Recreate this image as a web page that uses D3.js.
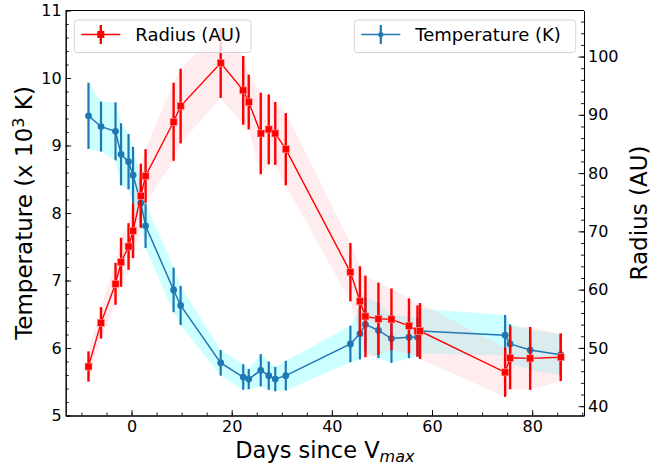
<!DOCTYPE html>
<html>
<head>
<meta charset="utf-8">
<title>Temperature and Radius vs Days</title>
<style>
body { margin: 0; padding: 0; background: #fff; }
svg { display: block; font-family: "DejaVu Sans", sans-serif; }
</style>
<script src="https://d3js.org/d3.v7.min.js"></script>
</head>
<body>
<svg id="chart" width="672" height="466"></svg>
<script>
// data
const days = [-8.6, -6.1, -3.2, -2.1, -0.6, 0.3, 1.85, 2.8, 8.4, 9.8, 17.8, 22.3, 23.4, 25.8, 27.4, 28.7, 30.8,
  43.7, 45.6, 46.7, 49.3, 51.9, 55.4, 57.1, 57.6, 74.6, 75.6, 79.6, 85.7];
const temp = [9.44, 9.28, 9.21, 8.87, 8.76, 8.56, 8.15, 7.81, 6.86, 6.63, 5.78, 5.57, 5.54, 5.67, 5.59, 5.54, 5.59,
  6.06, 6.21, 6.35, 6.26, 6.14, 6.16, 6.16, 6.25, 6.19, 6.06, 5.97, 5.90];
const tempErr = [0.49, 0.37, 0.43, 0.46, 0.41, 0.42, 0.35, 0.33, 0.33, 0.29, 0.19, 0.19, 0.15, 0.24, 0.21, 0.18, 0.22,
  0.27, 0.38, 0.4, 0.41, 0.36, 0.31, 0.29, 0.33, 0.3, 0.29, 0.3, 0.3];
const radius = [46.8, 54.3, 61.0, 64.7, 67.4, 70.1, 76.1, 79.5, 88.8, 91.5, 98.9, 94.2, 92.2, 86.8, 87.5, 86.8, 84.1,
  63.0, 58.0, 55.4, 55.0, 54.9, 53.8, 52.9, 52.9, 45.8, 48.3, 48.2, 48.4];
const radiusErr = [2.6, 2.7, 3.6, 4.2, 4.0, 4.7, 5.5, 4.6, 6.7, 6.4, 6.0, 5.9, 4.7, 7.0, 6.0, 5.4, 6.2,
  5.0, 6.0, 7.0, 6.2, 5.3, 4.7, 4.4, 4.8, 4.2, 5.4, 5.4, 4.1];

const xTicks = [0, 20, 40, 60, 80];
const tempTicks = [5, 6, 7, 8, 9, 10, 11];
const radiusTicks = [40, 50, 60, 70, 80, 90, 100];

const L = 65.7, R = 584, T = 10.5, B = 415.5;
const blue = "#1f77b4", red = "#ff0000";

const svg = d3.select("#chart");

const x = d3.scaleLinear().domain([-13.15, 90.35]).range([L, R]);
const yT = d3.scaleLinear().domain([5, 11]).range([B, T]);
const yR = d3.scaleLinear().domain([38.4, 107.9]).range([B, T]);

const tData = days.map((d, i) => ({ d: d, v: temp[i], e: tempErr[i] }));
const rData = days.map((d, i) => ({ d: d, v: radius[i], e: radiusErr[i] }));

// shaded bands
svg.append("path")
  .datum(tData)
  .attr("fill", "cyan").attr("fill-opacity", 0.2)
  .attr("d", d3.area().x(p => x(p.d)).y0(p => yT(p.v - p.e)).y1(p => yT(p.v + p.e)));

svg.append("path")
  .datum(rData)
  .attr("fill", "pink").attr("fill-opacity", 0.3)
  .attr("d", d3.area().x(p => x(p.d)).y0(p => yR(p.v - p.e)).y1(p => yR(p.v + p.e)));

// temperature series
svg.append("path")
  .datum(tData)
  .attr("fill", "none").attr("stroke", blue).attr("stroke-width", 1.5)
  .attr("d", d3.line().x(p => x(p.d)).y(p => yT(p.v)));

svg.append("g").selectAll("line")
  .data(tData).join("line")
  .attr("x1", p => x(p.d)).attr("x2", p => x(p.d))
  .attr("y1", p => yT(p.v - p.e)).attr("y2", p => yT(p.v + p.e))
  .attr("stroke", blue).attr("stroke-width", 2.2);

svg.append("g").selectAll("circle")
  .data(tData).join("circle")
  .attr("cx", p => x(p.d)).attr("cy", p => yT(p.v)).attr("r", 3.4)
  .attr("fill", blue);

// radius series
svg.append("path")
  .datum(rData)
  .attr("fill", "none").attr("stroke", red).attr("stroke-width", 1.4)
  .attr("d", d3.line().x(p => x(p.d)).y(p => yR(p.v)));

svg.append("g").selectAll("line")
  .data(rData).join("line")
  .attr("x1", p => x(p.d)).attr("x2", p => x(p.d))
  .attr("y1", p => yR(p.v - p.e)).attr("y2", p => yR(p.v + p.e))
  .attr("stroke", red).attr("stroke-width", 2.4);

svg.append("g").selectAll("rect")
  .data(rData).join("rect")
  .attr("x", p => x(p.d) - 3.5).attr("y", p => yR(p.v) - 3.5)
  .attr("width", 7).attr("height", 7)
  .attr("fill", red).attr("stroke", "#ff9999").attr("stroke-width", 0.6);

// axes
function styleAxis(g) {
  g.selectAll("path.domain").attr("stroke", "#000").attr("stroke-width", 1);
  g.selectAll(".tick line").attr("stroke", "#000").attr("stroke-width", 0.9);
  g.selectAll("text").attr("fill", "#000").style("font-size", "16px").style("font-family", "DejaVu Sans");
}

// minor ticks
svg.append("g").attr("transform", `translate(0,${B})`)
  .call(d3.axisBottom(x).tickValues(d3.range(-10, 91, 5)).tickSize(-3).tickSizeOuter(0).tickFormat(""))
  .call(styleAxis);
svg.append("g").attr("transform", `translate(${L},0)`)
  .call(d3.axisLeft(yT).tickValues(d3.range(50, 111, 2).map(v => v / 10)).tickSize(-3).tickSizeOuter(0).tickFormat(""))
  .call(styleAxis);
svg.append("g").attr("transform", `translate(${R},0)`)
  .call(d3.axisRight(yR).tickValues(d3.range(40, 108, 2)).tickSize(-3).tickSizeOuter(0).tickFormat(""))
  .call(styleAxis);

// major ticks
svg.append("g").attr("transform", `translate(0,${B})`)
  .call(d3.axisBottom(x).tickValues(xTicks).tickSize(-5.5).tickSizeOuter(0).tickPadding(5.5).tickFormat(d3.format("d")))
  .call(styleAxis);
svg.append("g").attr("transform", `translate(${L},0)`)
  .call(d3.axisLeft(yT).tickValues(tempTicks).tickSize(-5.5).tickSizeOuter(0).tickPadding(4).tickFormat(d3.format("d")))
  .call(styleAxis);
svg.append("g").attr("transform", `translate(${R},0)`)
  .call(d3.axisRight(yR).tickValues(radiusTicks).tickSize(-5.5).tickSizeOuter(0).tickPadding(4).tickFormat(d3.format("d")))
  .call(styleAxis);

// top spine
svg.append("line")
  .attr("x1", L).attr("x2", R).attr("y1", T).attr("y2", T)
  .attr("stroke", "#000").attr("stroke-width", 1);

// axis labels
const xl = svg.append("text")
  .attr("x", (L + R) / 2).attr("y", 458)
  .attr("text-anchor", "middle").style("font-size", "22.5px").attr("fill", "#000");
xl.append("tspan").text("Days since V");
xl.append("tspan").attr("dy", 4).style("font-size", "16px").style("font-style", "italic").text("max");

const yl = svg.append("text")
  .attr("transform", `translate(32,${(T + B) / 2}) rotate(-90)`)
  .attr("text-anchor", "middle").style("font-size", "23px").attr("fill", "#000");
yl.append("tspan").text("Temperature (x 10");
yl.append("tspan").attr("dy", -8).style("font-size", "16px").text("3");
yl.append("tspan").attr("dy", 8).text(" K)");

svg.append("text")
  .attr("transform", `translate(647,${(T + B) / 2}) rotate(-90)`)
  .attr("text-anchor", "middle").style("font-size", "23px").attr("fill", "#000")
  .text("Radius (AU)");

// legends
function legend(x0, w, label, color, square) {
  const g = svg.append("g");
  g.append("rect")
    .attr("x", x0).attr("y", 20).attr("width", w).attr("height", 32.5).attr("rx", 3)
    .attr("fill", "#fff").attr("fill-opacity", 0.8)
    .attr("stroke", "#d4d4d4").attr("stroke-width", 1);
  const cy = 34.5, hx = x0 + 7;
  g.append("line").attr("x1", hx).attr("x2", hx + 39).attr("y1", cy).attr("y2", cy)
    .attr("stroke", color).attr("stroke-width", square ? 1.4 : 1.5);
  g.append("line").attr("x1", hx + 19.5).attr("x2", hx + 19.5).attr("y1", cy - 9.5).attr("y2", cy + 9.5)
    .attr("stroke", color).attr("stroke-width", square ? 2.4 : 2.2);
  if (square) {
    g.append("rect").attr("x", hx + 16).attr("y", cy - 3.5).attr("width", 7).attr("height", 7).attr("fill", color);
  } else {
    g.append("circle").attr("cx", hx + 19.5).attr("cy", cy).attr("r", 2.6).attr("fill", color);
  }
  g.append("text").attr("x", hx + 54).attr("y", cy + 6.5)
    .style("font-size", "18px").attr("fill", "#000").text(label);
}
legend(74.3, 176.7, "Radius (AU)", red, true);
legend(354.3, 221.4, "Temperature (K)", blue, false);
</script>
</body>
</html>
